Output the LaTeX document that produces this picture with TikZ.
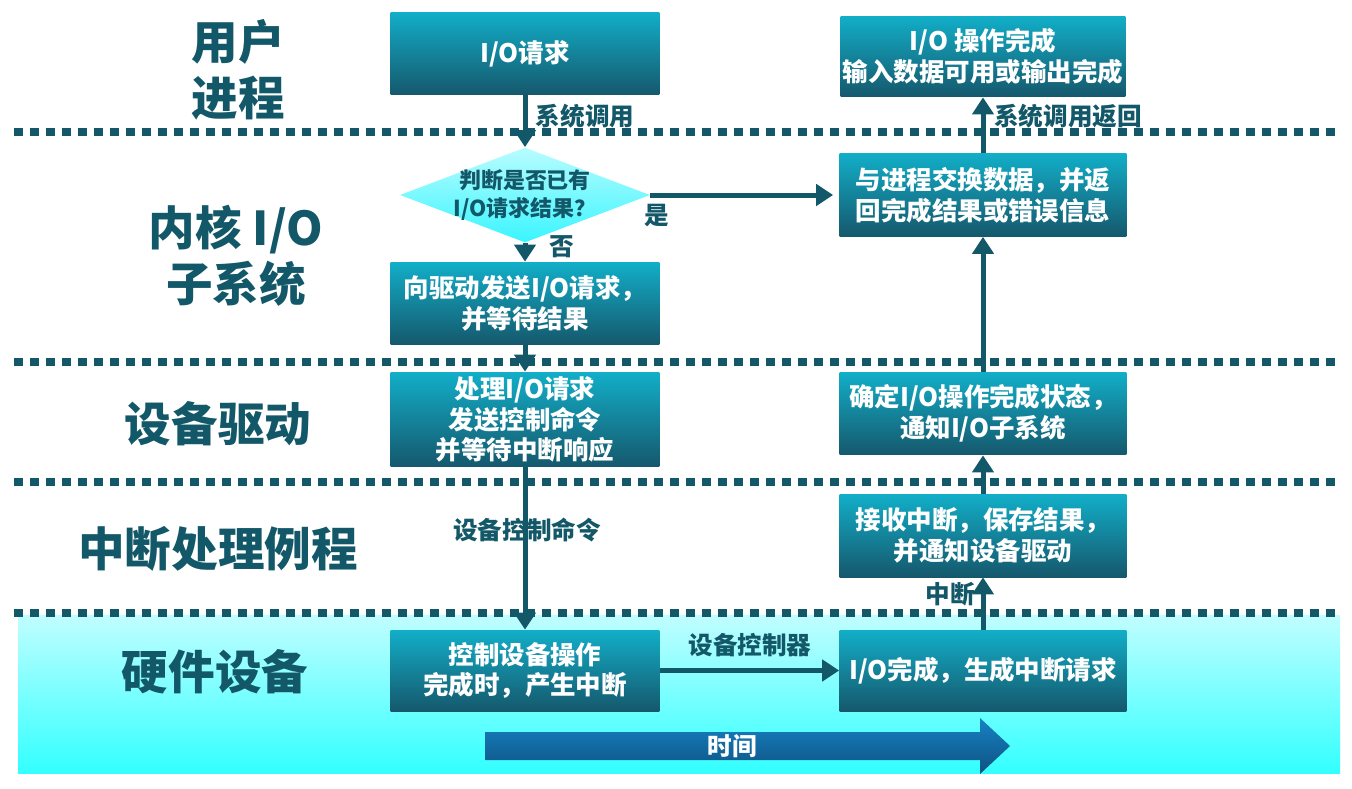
\documentclass[tikz,border=0pt]{standalone}
\usepackage{fontspec}
\setmainfont{Noto Sans CJK SC}
\usepackage{tikz}
\usetikzlibrary{arrows.meta}
\usetikzlibrary{shapes.geometric,positioning}
\definecolor{deepteal}{RGB}{19,88,104}
\definecolor{boxtop}{RGB}{18,174,200}
\definecolor{boxbot}{RGB}{21,88,108}
\definecolor{bandtop}{RGB}{192,254,255}
\definecolor{bandbot}{RGB}{51,255,255}
\definecolor{judgetop}{RGB}{184,252,255}
\definecolor{judgebot}{RGB}{58,245,255}
\definecolor{timetop}{RGB}{22,130,196}
\definecolor{timebot}{RGB}{14,82,128}
\tikzset{
    % 流程方框
    procbox/.style={
        rectangle,
        top color=boxtop,
        bottom color=boxbot,
        text=white,
        font=\bfseries\fontsize{14.5}{17.5}\selectfont,
        align=center,
        inner sep=0pt,
        minimum width=5.38cm,
        minimum height=1.66cm
    },
    % 判断菱形
    judgebox/.style={
        diamond,
        top color=judgetop,
        bottom color=judgebot,
        inner sep=0pt,
        minimum width=5cm,
        minimum height=1.9cm
    },
    % 层次名称
    layertext/.style={
        deepteal,
        font=\bfseries\fontsize{26.5}{32}\selectfont,
        align=center
    },
    edgetext/.style={
        deepteal,
        font=\bfseries\fontsize{14}{17}\selectfont
    },
    % 虚线分隔
    sepline/.style={
        deepteal,
        line width=0.16cm,
        dash pattern=on 0.18cm off 0.14cm
    },
    flowarrow/.style={
        deepteal,
        line width=0.1cm,
        -{Triangle[length=0.34cm, width=0.42cm]}
    }
}

\begin{document}
\begin{tikzpicture}[x=0.02cm,y=-0.02cm]
	\useasboundingbox (0,0) rectangle (1352,788);
	
	% 硬件设备背景
	\fill[top color=bandtop,bottom color=bandbot] (18,615) rectangle (1340,773);
	
	% 分隔线
	\draw[sepline] (14,132) -- (1340,132);
	\draw[sepline] (14,362) -- (1340,362);
	\draw[sepline] (14,482) -- (1340,482);
	\draw[sepline] (14,613) -- (1340,613);
	
	% 层次名称
	\node[layertext] (user) at (238,70) {用户\\进程};
	\node[layertext] (kernel) at (236,256) {内核 I/O\\子系统};
	\node[layertext] (driver) at (218,424) {设备驱动};
	\node[layertext] (handler) at (218,549) {中断处理例程};
	\node[layertext] (hardware) at (215,672) {硬件设备};
	
	% 左列
	\node[procbox] (req) at (525,53.5) {I/O请求};
	\node[judgebox, label={[deepteal,font=\bfseries\fontsize{12.5}{16}\selectfont,align=center]center:判断是否已有\\I/O请求结果？}] (judge) at (525,195) {};
	\node[procbox] (send) at (525,303.5) {向驱动发送I/O请求，\\并等待结果};
	\node[procbox, minimum height=1.9cm] (drv) at (525,419.5) {处理I/O请求\\发送控制命令\\并等待中断响应};
	\node[procbox, minimum height=1.62cm] (ctl) at (525,670.5) {控制设备操作\\完成时，产生中断};
	
	% 右列
	\node[procbox, minimum width=5.7cm, minimum height=1.62cm] (done) at (983,56.5) {I/O 操作完成\\输入数据可用或输出完成};
	\node[procbox, minimum width=5.74cm] (xchg) at (983,195) {与进程交换数据，并返\\回完成结果或错误信息};
	\node[procbox, minimum width=5.74cm] (conf) at (983,413.5) {确定I/O操作完成状态，\\通知I/O子系统};
	\node[procbox, minimum width=5.74cm] (recv) at (983,535.5) {接收中断，保存结果，\\并通知设备驱动};
	\node[procbox, minimum width=5.74cm, minimum height=1.62cm] (irq) at (983,670.5) {I/O完成，生成中断请求};
	
	% 箭头
	\draw[flowarrow] (req) -- (judge);
	\draw[flowarrow] (judge) -- (send);
	\draw[flowarrow] (send) -- (drv);
	\draw[flowarrow] (drv) -- (ctl);
	\draw[flowarrow] (ctl) -- (irq);
	\draw[flowarrow] (irq) -- (recv);
	\draw[flowarrow] (recv) -- (conf);
	\draw[flowarrow] (conf) -- (xchg);
	\draw[flowarrow] (xchg) -- (done);
	\draw[flowarrow,shorten >=0.12cm] (judge) -- (xchg);
	
	% 箭头文字
	\node[edgetext] (lblcall) at (585,116) {系统调用};
	\node[edgetext] (lblret) at (1068,116) {系统调用返回};
	\node[edgetext] (lblyes) at (657,216) {是};
	\node[edgetext] (lblno) at (562,247) {否};
	\node[edgetext] (lblcmd) at (527,530) {设备控制命令};
	\node[edgetext] (lblctrl) at (750,645) {设备控制器};
	\node[edgetext] (lblirq) at (950,594) {中断};
	
	% 时间箭头
	\shade[top color=timetop,bottom color=timebot] (485,732) -- (980,732) -- (980,718) -- (1010,746) -- (980,774) -- (980,760) -- (485,760) -- cycle;
	\node[text=white,font=\bfseries\fontsize{14}{17}\selectfont] (time) at (732,746) {时间};
\end{tikzpicture}
\end{document}
